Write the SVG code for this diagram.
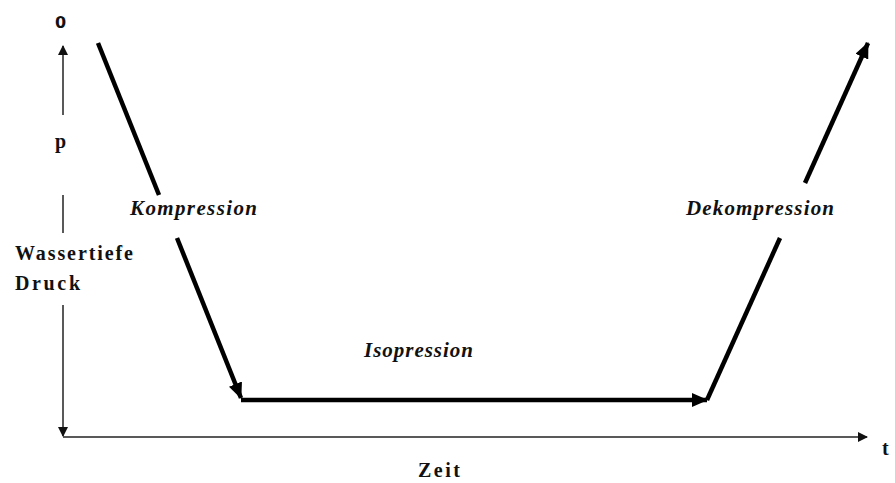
<svg xmlns="http://www.w3.org/2000/svg" width="895" height="483" viewBox="0 0 895 483">
<style>
.ax{stroke:#222;stroke-width:1.5;fill:none}
.pr{stroke:#000;stroke-width:4.5;fill:none}
.lbl{font-family:"Liberation Serif",serif;font-weight:bold;font-size:20px;fill:#111}
.it{font-family:"Liberation Serif",serif;font-weight:bold;font-style:italic;font-size:21px;fill:#111}
.zero{font-family:"DejaVu Sans","Liberation Sans",sans-serif;font-weight:bold;font-size:16px;fill:#111}
</style>
<defs>
<marker id="ha" markerWidth="10" markerHeight="10" refX="9" refY="5" orient="auto" markerUnits="userSpaceOnUse" viewBox="0 0 10 10"><path d="M0,0 L10,5 L0,10 Z" fill="#111"/></marker>
<marker id="hb" markerWidth="16" markerHeight="14" refX="15" refY="7" orient="auto" markerUnits="userSpaceOnUse" viewBox="0 0 16 14"><path d="M0,0 L16,7 L0,14 Z" fill="#000"/></marker>
</defs>
<g id="axes">
<line class="ax" x1="63" y1="115" x2="63" y2="46" marker-end="url(#ha)"/>
<line class="ax" x1="63" y1="195" x2="63" y2="233"/>
<line class="ax" x1="63" y1="305" x2="63" y2="436" marker-end="url(#ha)"/>
<line class="ax" x1="63" y1="437" x2="867" y2="437" marker-end="url(#ha)"/>
</g>
<g id="connectors">
<line class="pr" x1="98" y1="43" x2="159" y2="195"/>
<line class="pr" x1="177" y1="238" x2="241" y2="398" marker-end="url(#hb)"/>
<line class="pr" x1="241" y1="400" x2="707" y2="400" marker-end="url(#hb)"/>
<line class="pr" x1="707" y1="400" x2="780" y2="238"/>
<line class="pr" x1="805" y1="183" x2="868" y2="43" marker-end="url(#hb)"/>
</g>
<g id="labels">
<text class="zero" x="55" y="28">0</text>
<text class="lbl" x="55" y="148" font-size="17">p</text>
<text class="lbl" x="15" y="260" font-size="19" textLength="118" lengthAdjust="spacing">Wassertiefe</text>
<text class="lbl" x="15" y="290" font-size="19" textLength="65" lengthAdjust="spacing">Druck</text>
<text class="lbl" x="418" y="477" textLength="42" lengthAdjust="spacing">Zeit</text>
<text class="lbl" x="882" y="455">t</text>
<text class="it" x="130" y="215" textLength="127" lengthAdjust="spacing">Kompression</text>
<text class="it" x="364" y="357" textLength="109" lengthAdjust="spacing">Isopression</text>
<text class="it" x="686" y="215" textLength="148" lengthAdjust="spacing">Dekompression</text>
</g>
</svg>
